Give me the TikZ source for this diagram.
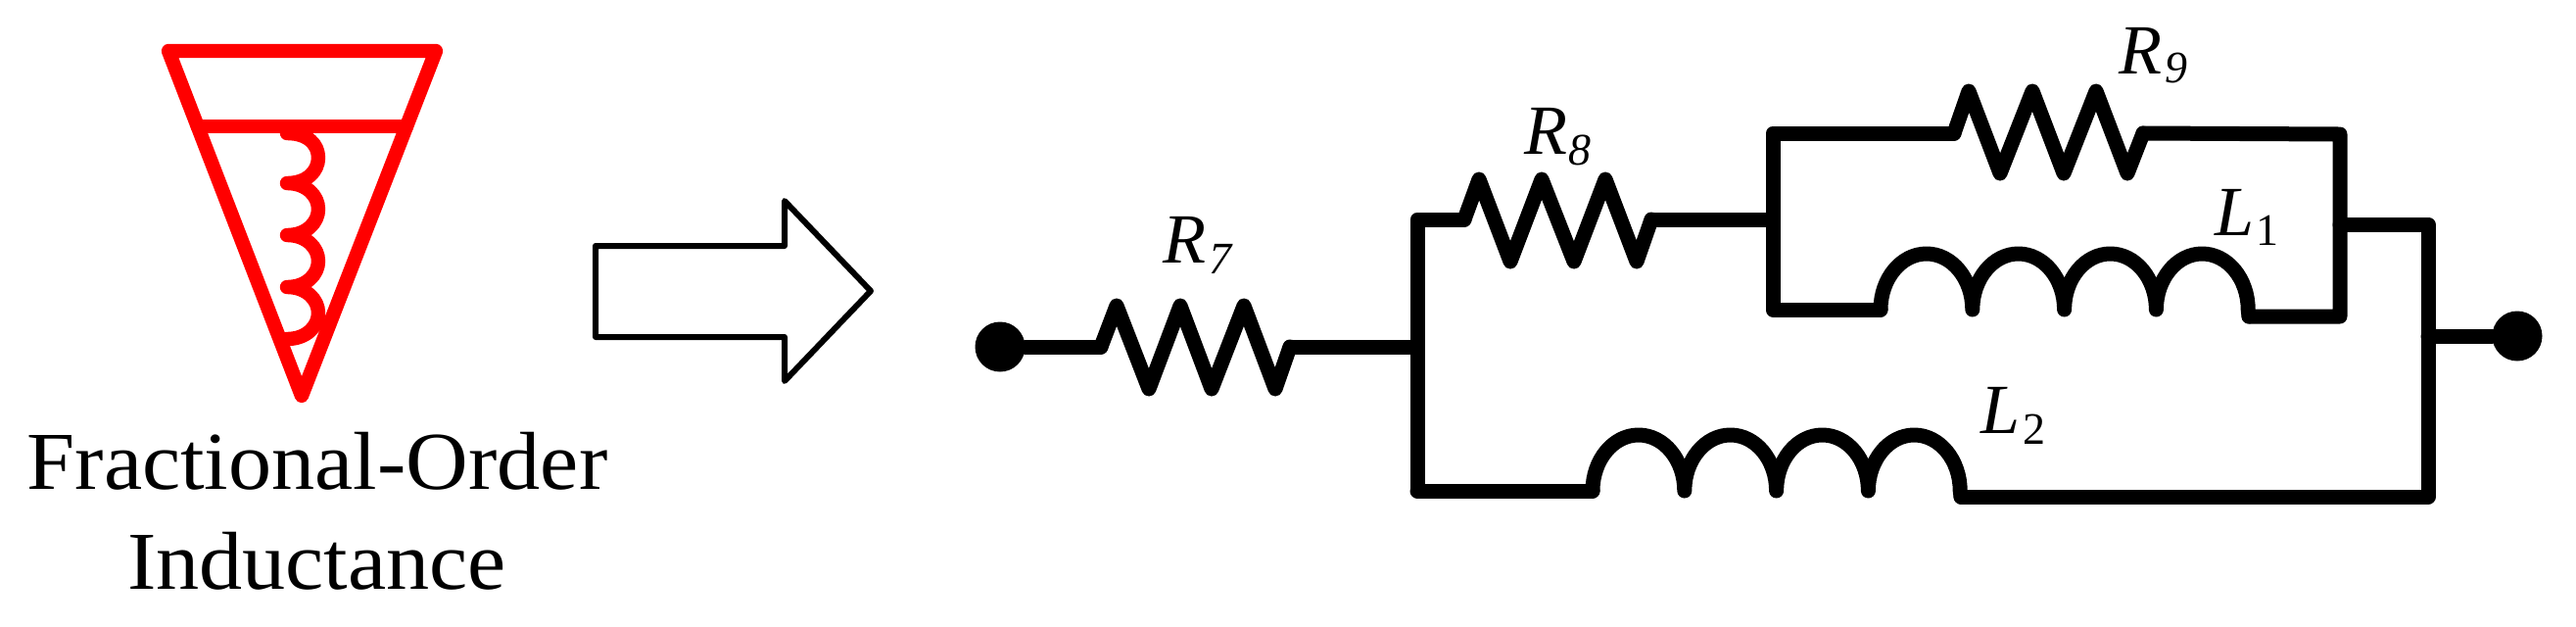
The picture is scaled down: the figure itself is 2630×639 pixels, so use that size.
\documentclass[tikz,border=0pt]{standalone}
\usepackage{fontspec}
\setmainfont{Liberation Serif}
\newfontfamily\capfont[FakeStretch=1.05]{Liberation Serif}
\usetikzlibrary{calc}
\tikzset{
  px/.style={x=0.5pt,y=-0.5pt},
  wire/.style={line width=7.5pt,line join=round,line cap=round,black},
  red wire/.style={line width=7.2pt,line join=round,line cap=round,red},
  dotnode/.style={circle,fill=black,draw=none,minimum size=25.5pt,inner sep=0pt},
  complabel/.style={anchor=base west,inner sep=0pt,font=\fontsize{36}{36}\selectfont\itshape},
  sublabel/.style={anchor=base west,inner sep=0pt,font=\fontsize{23}{23}\selectfont\itshape},
  captext/.style={anchor=base,inner sep=0pt,font=\fontsize{42}{42}\selectfont\capfont},
  arrowshape/.style={line width=3pt,line join=round,draw=black,fill=white}
}
\newcommand{\hump}{arc[start angle=180,end angle=0,x radius=23.45pt,y radius=28.5pt]}
\begin{document}
\begin{tikzpicture}[px]
\useasboundingbox (0,0) rectangle (2630,639);
% fractional-order element
\coordinate (tl) at (172,52);
\coordinate (tr) at (445,52);
\coordinate (tb) at (308,404);
\coordinate (ml) at ($(tl)!0.219!(tb)$);
\coordinate (mr) at ($(tr)!0.219!(tb)$);
\draw[red wire] (tl) -- (tr) -- (tb) -- cycle;
\draw[red wire] (ml) -- (mr);
\coordinate (c0) at (293,136);
\coordinate (c1) at (293,187);
\coordinate (c2) at (293,240);
\coordinate (c3) at (293,293);
\coordinate (c4) at (293,346);
\draw[red wire] (c0) .. controls (315,136) and (325,148) .. (325,161) .. controls (325,175) and (313,187) .. (c1)
  .. controls (313,187) and (325,200) .. (325,213.5) .. controls (325,227) and (313,240) .. (c2)
  .. controls (313,240) and (325,253) .. (325,266.5) .. controls (325,280) and (313,293) .. (c3)
  .. controls (313,293) and (325,306) .. (325,319.5) .. controls (325,333) and (313,346) .. (c4);
\node[captext] (cap1) at (324,499) {Fractional-Order};
\node[captext] (cap2) at (323.5,601) {Inductance};
% arrow
\draw[arrowshape] (608,251) -- (801,251) -- (801,205) -- (889,297) -- (801,389) -- (801,344) -- (608,344) -- cycle;
% circuit
\node[dotnode] (in) at (1021,354) {};
\node[dotnode] (out) at (2570,343) {};
\coordinate (r7a) at (1124,354);
\coordinate (r7b) at (1317,354);
\coordinate (ja) at (1447,354);
\coordinate (jt) at (1447,224);
\coordinate (jb) at (1447,501);
\coordinate (r8a) at (1495,224);
\coordinate (r8b) at (1686,224);
\coordinate (bl) at (1810,224);
\coordinate (btl) at (1810,136);
\coordinate (bbl) at (1810,316);
\coordinate (r9a) at (1995,136);
\coordinate (r9b) at (2188,136);
\coordinate (btr) at (2389,137);
\coordinate (bbr) at (2389,323);
\coordinate (brm) at (2389,229);
\coordinate (l1a) at (1920,316);
\coordinate (l1b) at (2296,323);
\coordinate (ot) at (2479,229);
\coordinate (om) at (2479,343);
\coordinate (ob) at (2479,507);
\coordinate (l2a) at (1626,501);
\coordinate (l2b) at (2002,507);
\draw[wire] (in) -- (r7a);
\draw[wire] (r7a) -- (1140,312) -- (1173,397) -- (1205,312) -- (1237,397) -- (1270,312) -- (1302,397) -- (r7b);
\draw[wire] (r7b) -- (ja);
\draw[wire] (jb) -- (jt) -- (r8a);
\draw[wire] (r8a) -- (1510,183) -- (1542,267) -- (1574,183) -- (1607,267) -- (1639,183) -- (1671,267) -- (r8b);
\draw[wire] (r8b) -- (bl);
\draw[wire] (l1a) -- (bbl) -- (btl) -- (r9a);
\draw[wire] (r9a) -- (2010,93) -- (2042,177) -- (2075,93) -- (2107,177) -- (2140,93) -- (2172,177) -- (r9b);
\draw[wire] (r9b) -- (btr) -- (bbr) -- (l1b);
\draw[wire] (brm) -- (ot) -- (ob) -- (l2b);
\draw[wire] (om) -- (out);
\draw[wire] (l1a) \hump \hump \hump \hump -- (l1b);
\draw[wire] (jb) -- (l2a);
\draw[wire] (l2a) \hump \hump \hump \hump -- (l2b);
% labels
\node[complabel] (lr7) at (1187,268) {R};
\node[sublabel] (sr7) at (1234,279) {7};
\node[complabel] (lr8) at (1556,157) {R};
\node[sublabel] (sr8) at (1601,168) {8};
\node[complabel] (lr9) at (2163,75) {R};
\node[sublabel] (sr9) at (2210,84) {9};
\node[complabel] (ll1) at (2261,240) {L};
\node[sublabel,font=\fontsize{23}{23}\selectfont] (sl1) at (2303,250) {1};
\node[complabel] (ll2) at (2022,442) {L};
\node[sublabel,font=\fontsize{23}{23}\selectfont] (sl2) at (2065,453) {2};
\end{tikzpicture}
\end{document}
